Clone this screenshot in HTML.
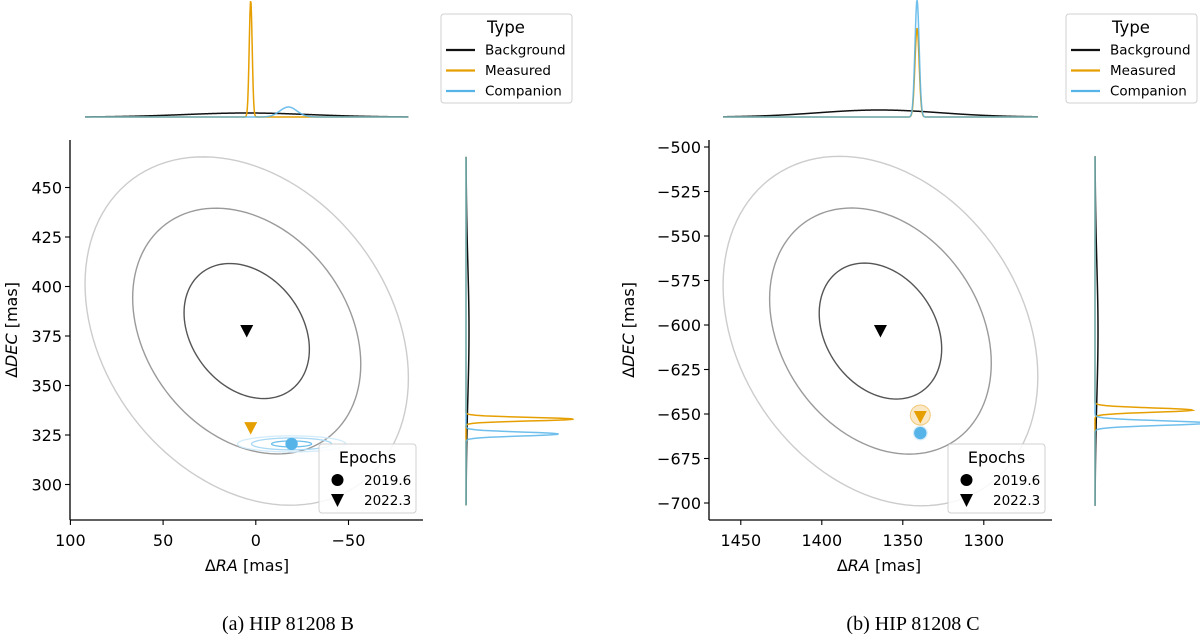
<!DOCTYPE html>
<html><head><meta charset="utf-8"><style>
body{margin:0;background:#fff}
svg{display:block;font-family:"DejaVu Sans","Liberation Sans",sans-serif}
</style></head><body>
<svg id="fig" width="1200" height="634" viewBox="0 0 1200 634" xmlns="http://www.w3.org/2000/svg">
<g id="A"></g>
<g id="B"></g>
<text x="288" y="630" font-family="Liberation Serif, serif" font-size="20" text-anchor="middle">(a) HIP 81208 B</text>
<text x="913" y="630" font-family="Liberation Serif, serif" font-size="20" text-anchor="middle">(b) HIP 81208 C</text>
</svg>
<script>
// ---------- Panel A data ----------
const aXTicks=[100,50,0,-50];
const aYTicks=[300,325,350,375,400,425,450];
const aBgCenter=[4.9,377.5];
const aBgSigma=[33.8,34.1];
const aBgRho=0.27;
const aLevels=[1,1.82,2.58];
const aMeasured=[2.75,328.5];
const aCompanion=[-19.3,320.5];
const aCompSigma=[10.8,1.5];
const aCompLevels=[1,2,2.7];
const aTopMean=[4.9,2.75,-17.6];
const aTopSigma=[33.8,0.8,4.6];
const aTopPeak=[4,117,10];
const aSideMean=[377.5,333,325.5];
const aSideSigma=[34.1,0.9,1.0];
const aSidePeak=[3,108,93];
// ---------- Panel B data ----------
const bXTicks=[1450,1400,1350,1300];
const bYTicks=[-700,-675,-650,-625,-600,-575,-550,-525,-500];
const bBgCenter=[1363.8,-603.4];
const bBgSigma=[37.8,38.2];
const bBgRho=0.26;
const bLevels=[1,1.81,2.57];
const bMeasured=[1339.2,-651.7];
const bCompanion=[1339.2,-660.7];
const bTopMean=[1364.5,1341.2,1341.2];
const bTopSigma=[37.8,1.3,1.3];
const bTopPeak=[7,89,117];
const bSideMean=[-603.4,-647.8,-655.1];
const bSideSigma=[38.2,1.2,1.3];
const bSidePeak=[3,98,112];

const NS="http://www.w3.org/2000/svg";
const COLORS=["#111111","#E69F00","#56B4E9"];
function mk(parent,tag,attrs){const e=document.createElementNS(NS,tag);for(const k in attrs)e.setAttribute(k,attrs[k]);parent.appendChild(e);return e;}

function panel(g,cfg){
  const px=cfg.px, py=cfg.py;
  let e=mk(g,'line',{x1:cfg.ax0,y1:520,x2:cfg.ax0,y2:140,stroke:'#000','stroke-width':1.3});
  
  e=mk(g,'line',{x1:cfg.ax0,y1:520,x2:cfg.ax1,y2:520,stroke:'#000','stroke-width':1.3});
  
  cfg.xTicks.forEach(v=>{const x=px(v);
    const t=mk(g,'line',{x1:x,y1:520,x2:x,y2:525,stroke:'#000','stroke-width':1.1});
    
    const l=mk(g,'text',{x:x,y:546,'font-size':16,'text-anchor':'middle'});l.textContent=String(v).replace('-','\u2212');
    });
  cfg.yTicks.forEach(v=>{const y=py(v);
    const t=mk(g,'line',{x1:cfg.ax0-5,y1:y,x2:cfg.ax0,y2:y,stroke:'#000','stroke-width':1.1});
    
    const l=mk(g,'text',{x:cfg.ax0-8,y:y+6,'font-size':16,'text-anchor':'end'});l.textContent=String(v).replace('-','\u2212');
    });
  let xl=mk(g,'text',{x:cfg.xlabX,y:571,'font-size':16,'text-anchor':'middle'});
  xl.innerHTML='\u0394<tspan font-style="italic">RA</tspan> [mas]';
  
  let yl=mk(g,'text',{x:0,y:0,'font-size':16,'text-anchor':'middle',transform:`translate(${cfg.ylabX},330) rotate(-90)`});
  yl.innerHTML='\u0394<tspan font-style="italic">DEC</tspan> [mas]';
  
  const gray=['#555555','#9a9a9a','#cccccc'];
  function ell(c,s,rho,k){let d='';for(let i=0;i<=120;i++){const t=i/120*2*Math.PI;
    const vx=c[0]+k*s[0]*Math.cos(t);const vy=c[1]+k*s[1]*(rho*Math.cos(t)+Math.sqrt(1-rho*rho)*Math.sin(t));
    d+=(i?'L':'M')+px(vx).toFixed(2)+' '+py(vy).toFixed(2);}return d+'Z';}
  cfg.levels.forEach((k,i)=>{const p=mk(g,'path',{d:ell(cfg.bgCenter,cfg.bgSigma,cfg.bgRho,k),fill:'none',stroke:gray[i],'stroke-width':1.4});
    });
  if(cfg.compSigma){const bl=['#d2ebfa','#a9d8f4','#6fc0ec'];
    cfg.compLevels.slice().reverse().forEach((k,i)=>{const p=mk(g,'path',{d:ell(cfg.companion,cfg.compSigma,0,k),fill:'none',stroke:bl[i],'stroke-width':1.3});
      });}
  if(cfg.halo){let h=mk(g,'circle',{cx:px(cfg.measured[0]),cy:py(cfg.measured[1])-2,r:10,fill:'#f6d9a0','fill-opacity':0.6,stroke:'#f0c878','stroke-width':1});
    
    h=mk(g,'circle',{cx:px(cfg.companion[0]),cy:py(cfg.companion[1]),r:7.5,fill:'#cbe7f8','fill-opacity':0.7});
    }
  function tri(x,y,c,name){const m=mk(g,'path',{d:`M${x-6.5} ${y-6}L${x+6.5} ${y-6}L${x} ${y+6.5}Z`,fill:c});
    }
  tri(px(cfg.bgCenter[0]),py(cfg.bgCenter[1]),'#000','background-marker-2022');
  tri(px(cfg.measured[0]),py(cfg.measured[1]),'#E69F00','measured-marker-2022');
  let cm=mk(g,'circle',{cx:px(cfg.companion[0]),cy:py(cfg.companion[1]),r:6.2,fill:'#56B4E9'});
  
  const ex=cfg.epochX;
  let lg=mk(g,'g',{});
  mk(lg,'rect',{x:ex,y:444,width:97,height:69,rx:3,fill:'#fff','fill-opacity':0.85,stroke:'#d0d0d0'});
  let tt=mk(lg,'text',{x:ex+48.5,y:463,'font-size':16,'text-anchor':'middle'});tt.textContent='Epochs';
  
  let ci=mk(lg,'circle',{cx:ex+18.5,cy:480,r:6,fill:'#000'});
  let t1=mk(lg,'text',{x:ex+45,y:485,'font-size':13.5});t1.textContent='2019.6';
  let tr=mk(lg,'path',{d:`M${ex+12} ${494}L${ex+25} ${494}L${ex+18.5} ${507}Z`,fill:'#000'});
  let t2=mk(lg,'text',{x:ex+45,y:505,'font-size':13.5});t2.textContent='2022.3';
  const xr=[cfg.bgCenter[0]+cfg.levels[2]*cfg.bgSigma[0],cfg.bgCenter[0]-cfg.levels[2]*cfg.bgSigma[0]];
  const yr=[cfg.bgCenter[1]-cfg.levels[2]*cfg.bgSigma[1],cfg.bgCenter[1]+cfg.levels[2]*cfg.bgSigma[1]];
  const names=['background','measured','companion'];
  for(let s=0;s<3;s++){
    let d='';for(let i=0;i<=600;i++){const v=xr[0]+(xr[1]-xr[0])*i/600;
      const h=cfg.topPeak[s]*Math.exp(-0.5*Math.pow((v-cfg.topMean[s])/cfg.topSigma[s],2));
      d+=(i?'L':'M')+px(v).toFixed(2)+' '+(117-h).toFixed(2);}
    const p=mk(g,'path',{d:d,fill:'none',stroke:COLORS[s],'stroke-width':1.5,'stroke-opacity':s==2?0.85:1});
    
    let d2='';for(let i=0;i<=600;i++){const v=yr[0]+(yr[1]-yr[0])*i/600;
      const h=cfg.sidePeak[s]*Math.exp(-0.5*Math.pow((v-cfg.sideMean[s])/cfg.sideSigma[s],2));
      d2+=(i?'L':'M')+(cfg.sideX+h).toFixed(2)+' '+py(v).toFixed(2);}
    const p2=mk(g,'path',{d:d2,fill:'none',stroke:COLORS[s],'stroke-width':1.5,'stroke-opacity':s==2?0.85:1});
    
  }
  const lx=cfg.typeX;
  let tg=mk(g,'g',{});
  mk(tg,'rect',{x:lx,y:14,width:131,height:89,rx:3,fill:'#fff',stroke:'#d0d0d0'});
  let ty=mk(tg,'text',{x:lx+65,y:33,'font-size':16.5,'text-anchor':'middle'});ty.textContent='Type';
  
  ['Background','Measured','Companion'].forEach((n,i)=>{const y=50+i*20.5;
    const ln=mk(tg,'line',{x1:lx+5,y1:y,x2:lx+34,y2:y,stroke:COLORS[i],'stroke-width':2.2});
    
    const tx=mk(tg,'text',{x:lx+44,y:y+4.5,'font-size':13.5});tx.textContent=n;
    });
}

panel(document.getElementById('A'),{
  px:v=>70.4+(100-v)*1.854, py:v=>435-(v-325)*1.98, ax0:70, ax1:423,
  xTicks:aXTicks,yTicks:aYTicks,bgCenter:aBgCenter,bgSigma:aBgSigma,bgRho:aBgRho,levels:aLevels,
  measured:aMeasured,companion:aCompanion,compSigma:aCompSigma,compLevels:aCompLevels,halo:false,
  topMean:aTopMean,topSigma:aTopSigma,topPeak:aTopPeak,sideMean:aSideMean,sideSigma:aSideSigma,sidePeak:aSidePeak,
  sideX:466,epochX:319,typeX:441,xlabX:247,ylabX:17});
panel(document.getElementById('B'),{
  px:v=>740.8+(1450-v)*1.62, py:v=>325-(v+600)*1.78, ax0:709, ax1:1052,
  xTicks:bXTicks,yTicks:bYTicks,bgCenter:bBgCenter,bgSigma:bBgSigma,bgRho:bBgRho,levels:bLevels,
  measured:bMeasured,companion:bCompanion,compSigma:null,compLevels:null,halo:true,
  topMean:bTopMean,topSigma:bTopSigma,topPeak:bTopPeak,sideMean:bSideMean,sideSigma:bSideSigma,sidePeak:bSidePeak,
  sideX:1095,epochX:948,typeX:1066,xlabX:879,ylabX:634});
</script>
</body></html>
